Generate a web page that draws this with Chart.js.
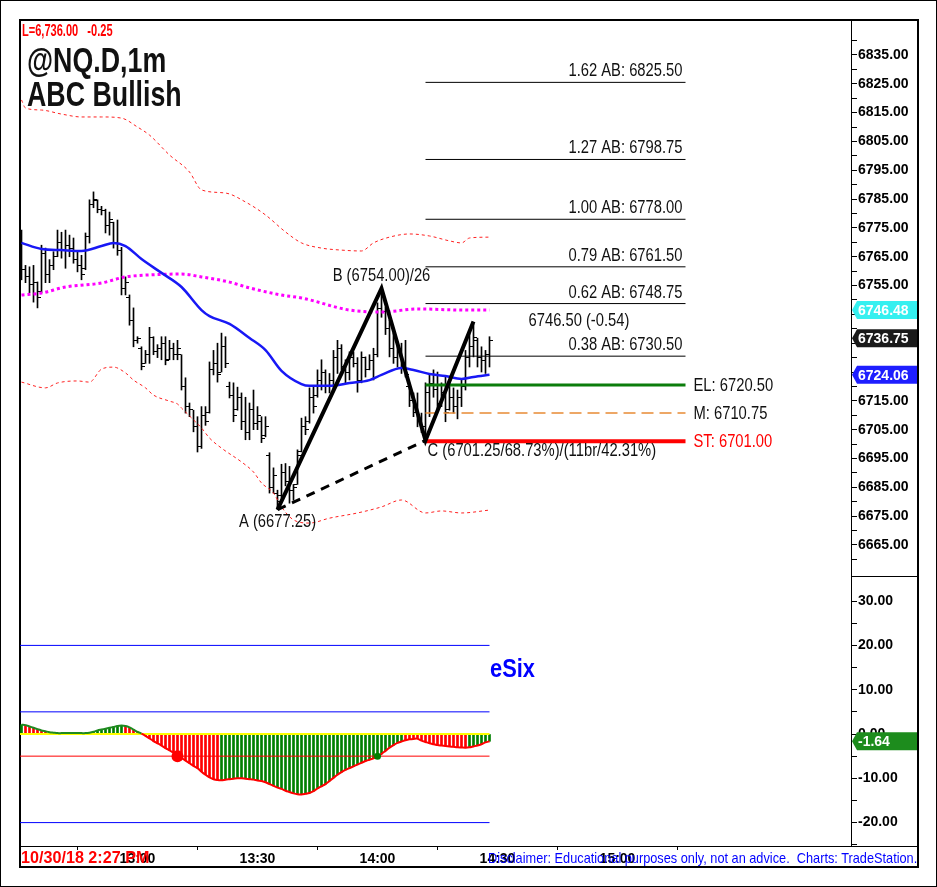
<!DOCTYPE html>
<html>
<head>
<meta charset="utf-8">
<script src="https://cdn.jsdelivr.net/npm/chart.js@4.4.1/dist/chart.umd.min.js"></script>
<style>
  html, body { margin: 0; padding: 0; background: #fff; }
  #wrap { position: relative; width: 937px; height: 887px; overflow: hidden; background: #fff; }
  .line { position: absolute; background: #000; }
  .txt { position: absolute; white-space: pre; transform-origin: 0 0;
         font-family: "Liberation Sans", Arial, sans-serif; }
  canvas { position: absolute; }
</style>
</head>
<body>
<div id="wrap">
  <div style="position:absolute;left:0;top:0;width:935px;height:885px;border:1px solid #000;"></div>
  <div style="position:absolute;left:19px;top:19px;width:896px;height:845px;border:2px solid #000;"></div>
  <div class="line" style="left:851px;top:576px;width:66px;height:1px;"></div>
  <div class="line" style="left:20px;top:846px;width:897px;height:1px;"></div>

  <canvas id="price" width="897" height="557" style="left:20px;top:20px;"></canvas>
  <canvas id="osc" width="897" height="289" style="left:20px;top:577px;"></canvas>

  <div class="txt" style="left:22px;top:23px;font-size:16px;line-height:16px;font-weight:bold;color:#f00;transform:scaleX(0.69);">L=6,736.00   -0.25</div>
  <div class="txt" style="left:27px;top:43px;font-size:35px;line-height:34px;font-weight:bold;color:#111;transform:scaleX(0.765);">@NQ.D,1m
ABC Bullish</div>
  <div class="txt" style="left:490px;top:655px;font-size:26px;line-height:26px;font-weight:bold;color:#0000ff;transform:scaleX(0.84);">eSix</div>
  <div class="txt" style="left:21px;top:849px;font-size:17px;line-height:17px;font-weight:bold;color:#f00;transform:scaleX(0.95);">10/30/18 2:27 PM</div>
  <div class="txt" style="left:488px;top:850px;font-size:15px;line-height:15px;color:#0000ff;transform:scaleX(0.85);">Disclaimer: Educational purposes only, not an advice.  Charts: TradeStation.</div>
</div>

<script>
// ---- data (1 minute bars, NQ futures) ----
const firstBarTime = "12:31";
const timeLabels = ["13:00", "13:30", "14:00", "14:30", "15:00"];

const barOpen = [
  6770.0, 6760.5, 6758.0, 6755.5, 6756.0, 6753.0, 6766.0, 6759.0, 6762.0, 6765.0,
  6770.0, 6767.0, 6769.0, 6768.0, 6764.0, 6762.0, 6761.0, 6772.0, 6783.0, 6784.5,
  6781.5, 6781.0, 6776.0, 6777.0, 6770.0, 6767.0, 6754.0, 6751.0, 6743.0, 6736.0,
  6733.0, 6728.0, 6731.0, 6737.0, 6732.0, 6733.0, 6735.0, 6729.5, 6733.0, 6731.0,
  6731.0, 6720.0, 6713.0, 6712.0, 6706.0, 6699.0, 6710.0, 6711.0, 6726.0, 6728.0,
  6725.0, 6734.0, 6720.0, 6717.0, 6712.0, 6716.0, 6708.0, 6704.0, 6712.0, 6707.0,
  6708.0, 6703.0, 6696.0, 6685.0, 6683.0, 6682.0, 6690.0, 6687.0, 6684.0, 6686.0,
  6697.5, 6706.0, 6708.0, 6716.0, 6717.0, 6722.0, 6725.0, 6720.0, 6722.0, 6730.0,
  6733.0, 6727.0, 6725.0, 6730.0, 6728.0, 6722.0, 6730.0, 6726.0, 6729.0, 6731.0,
  6747.0, 6746.0, 6740.0, 6733.0, 6730.0, 6733.0, 6727.0, 6720.0, 6715.0, 6711.0,
  6709.0, 6706.0, 6718.0, 6721.0, 6719.0, 6714.0, 6718.0, 6712.0, 6716.0, 6713.0,
  6716.0, 6720.0, 6730.0, 6734.0, 6736.0, 6730.0, 6729.0, 6731.0
];
const barHigh = [
  6774.25, 6762.0, 6761.5, 6762.0, 6756.25, 6769.0, 6768.0, 6764.0, 6766.75, 6774.25,
  6773.5, 6774.25, 6772.5, 6771.5, 6766.75, 6765.5, 6773.25, 6784.75, 6787.5, 6784.75,
  6782.5, 6781.5, 6780.5, 6777.0, 6777.75, 6768.25, 6758.0, 6751.75, 6747.25, 6737.25,
  6733.75, 6732.5, 6740.5, 6737.25, 6734.5, 6737.25, 6737.25, 6736.0, 6735.0, 6736.0,
  6731.0, 6723.0, 6714.25, 6711.75, 6709.5, 6713.0, 6713.0, 6728.5, 6732.5, 6735.0,
  6738.5, 6737.25, 6721.5, 6721.25, 6719.75, 6717.75, 6716.25, 6714.25, 6718.75, 6713.0,
  6709.5, 6709.5, 6697.0, 6691.75, 6684.0, 6693.0, 6693.25, 6692.25, 6686.0, 6698.0,
  6709.0, 6709.5, 6719.5, 6719.75, 6725.75, 6729.25, 6725.75, 6724.5, 6732.5, 6736.0,
  6734.5, 6729.25, 6732.0, 6732.0, 6730.0, 6732.0, 6730.25, 6731.0, 6733.25, 6749.0,
  6754.0, 6747.5, 6743.0, 6738.5, 6735.5, 6735.0, 6736.0, 6721.25, 6717.75, 6717.75,
  6710.75, 6721.25, 6724.5, 6725.75, 6725.0, 6721.25, 6723.25, 6722.25, 6719.5, 6718.75,
  6722.25, 6732.5, 6738.5, 6741.5, 6736.75, 6733.75, 6732.5, 6737.25
];
const barLow = [
  6757.0, 6756.0, 6752.5, 6749.25, 6747.25, 6752.5, 6756.0, 6756.0, 6760.5, 6765.0,
  6764.5, 6761.0, 6765.0, 6762.75, 6759.75, 6757.0, 6760.5, 6769.75, 6782.0, 6780.25,
  6779.5, 6773.25, 6772.5, 6768.0, 6765.5, 6751.75, 6751.75, 6741.25, 6733.75, 6735.0,
  6725.75, 6728.0, 6728.0, 6731.0, 6730.0, 6729.25, 6727.5, 6729.25, 6729.25, 6729.25,
  6718.75, 6710.75, 6709.5, 6704.25, 6697.25, 6698.5, 6706.5, 6710.75, 6724.0, 6721.5,
  6725.0, 6726.5, 6716.0, 6707.75, 6711.75, 6705.0, 6701.5, 6701.5, 6705.0, 6705.0,
  6700.5, 6702.5, 6683.0, 6683.0, 6677.25, 6681.25, 6685.5, 6679.5, 6680.5, 6686.0,
  6697.25, 6703.25, 6707.25, 6710.75, 6716.25, 6718.75, 6717.75, 6717.75, 6718.75, 6724.5,
  6725.75, 6721.25, 6722.25, 6726.75, 6718.0, 6721.25, 6723.25, 6725.75, 6722.25, 6730.25,
  6744.0, 6738.0, 6730.25, 6728.0, 6726.75, 6724.5, 6723.25, 6713.0, 6709.5, 6706.0,
  6704.0, 6701.25, 6709.5, 6716.25, 6711.75, 6713.0, 6707.75, 6711.75, 6710.75, 6708.75,
  6713.0, 6718.75, 6726.75, 6730.25, 6726.75, 6725.0, 6724.5, 6726.75
];
const barClose = [
  6760.5, 6758.0, 6755.5, 6756.0, 6751.0, 6766.0, 6759.0, 6762.0, 6765.0, 6770.0,
  6767.0, 6769.0, 6768.0, 6764.0, 6762.0, 6759.0, 6772.0, 6783.0, 6785.0, 6781.5,
  6781.0, 6776.0, 6778.0, 6770.0, 6767.0, 6754.0, 6756.0, 6743.0, 6736.0, 6736.5,
  6727.0, 6731.0, 6737.0, 6732.0, 6733.0, 6735.0, 6729.0, 6733.0, 6731.0, 6733.0,
  6720.0, 6713.0, 6712.0, 6706.0, 6699.0, 6710.0, 6708.0, 6726.0, 6728.0, 6724.0,
  6734.0, 6728.0, 6717.0, 6710.0, 6716.0, 6708.0, 6704.0, 6712.0, 6707.0, 6710.0,
  6702.0, 6706.0, 6685.0, 6689.0, 6680.0, 6690.0, 6687.0, 6684.0, 6685.0, 6696.0,
  6706.0, 6705.0, 6716.0, 6713.0, 6722.0, 6725.0, 6720.0, 6722.0, 6730.0, 6733.0,
  6727.0, 6725.0, 6730.0, 6728.0, 6722.0, 6730.0, 6726.0, 6729.0, 6731.0, 6747.0,
  6746.0, 6740.0, 6733.0, 6730.0, 6733.0, 6727.0, 6724.0, 6715.0, 6711.0, 6709.0,
  6706.0, 6718.0, 6721.0, 6719.0, 6714.0, 6718.0, 6711.0, 6716.0, 6713.0, 6716.0,
  6720.0, 6730.0, 6734.0, 6737.0, 6730.0, 6729.0, 6731.0, 6736.0
];

// averages and bands, sampled at bar positions
const fastMaIdx = [0, 5, 10, 15, 20, 23, 26, 30, 35, 40, 45, 47, 52, 57, 61, 65, 70, 72, 77, 82, 87, 90, 95, 98, 102, 106, 110, 113, 117];
const fastMaVal = [6769.8, 6767.7, 6767.3, 6767.0, 6768.7, 6769.8, 6768.7, 6764.2, 6759.4, 6754.5, 6746.5, 6744.4, 6741.7, 6736.8, 6732.6, 6725.4, 6720.8, 6720.2, 6720.2, 6721.2, 6722.2, 6724.0, 6726.4, 6725.7, 6724.3, 6723.6, 6722.6, 6723.3, 6724.06];
const slowMaIdx = [0, 5, 11, 20, 26, 32, 40, 45, 52, 57, 65, 70, 82, 90, 99, 110, 117];
const slowMaVal = [6751.7, 6752.4, 6754.5, 6755.9, 6758.0, 6758.7, 6759.0, 6758.0, 6756.2, 6754.2, 6751.7, 6750.7, 6746.5, 6745.8, 6746.9, 6746.5, 6746.48];
const upperBandIdx = [0, 1, 5, 10, 15, 20, 25, 29, 32, 37, 42, 45, 51, 56, 61, 66, 70, 75, 80, 85, 88, 92, 97, 102, 107, 110, 112, 117];
const upperBandVal = [6819.4, 6816.6, 6815.9, 6814.5, 6813.5, 6813.5, 6813.1, 6810.0, 6807.2, 6800.3, 6794.4, 6788.2, 6787.1, 6784.0, 6779.5, 6773.6, 6769.8, 6768.0, 6767.3, 6767.0, 6769.8, 6771.8, 6772.9, 6772.2, 6770.5, 6769.8, 6771.5, 6771.8];
const lowerBandIdx = [0, 6, 9, 14, 17, 20, 23, 26, 28, 31, 33, 37, 39, 40, 43, 45, 47, 50, 55, 58, 60, 63, 65, 68, 72, 77, 84, 90, 95, 101, 105, 110, 117];
const lowerBandVal = [6721.5, 6719.5, 6721.2, 6721.9, 6721.5, 6726.0, 6726.7, 6724.7, 6722.2, 6719.5, 6717.0, 6714.9, 6713.9, 6712.5, 6708.4, 6705.6, 6702.1, 6698.6, 6693.8, 6690.3, 6686.5, 6683.0, 6678.2, 6673.7, 6672.6, 6674.3, 6676.1, 6678.2, 6680.6, 6676.1, 6676.8, 6676.1, 6677.1];

// ABC pattern: A, B, C and the current leg
const abcIdx = [64, 90, 101, 113];
const abcPrice = [6677.25, 6754.00, 6701.25, 6742.5];
const projText = "6746.50 (-0.54)";
const fibRatios = ["1.62", "1.27", "1.00", "0.79", "0.62", "0.38"];
const fibPrices = [6825.50, 6798.75, 6778.00, 6761.50, 6748.75, 6730.50];
const levelNames = ["EL", "M", "ST"];
const levelPrices = [6720.50, 6710.75, 6701.00];
const levelEndIdx = 166;

const lastPrice = 6736.75;
const priceLabels = [6835, 6825, 6815, 6805, 6795, 6785, 6775, 6765, 6755, 6745, 6735, 6725, 6715, 6705, 6695, 6685, 6675, 6665];
const priceMinor = [6840, 6830, 6820, 6810, 6800, 6790, 6780, 6770, 6760, 6750, 6740, 6730, 6720, 6710, 6700, 6690, 6680, 6670, 6660];

// eSix oscillator, one value per bar
const oscValues = [
  2.1, 2.0, 1.7, 1.4, 1.1, 0.8, 0.6, 0.4, 0.3, 0.2,
  0.2, 0.2, 0.2, 0.2, 0.2, 0.2, 0.2, 0.3, 0.5, 0.8,
  1.0, 1.2, 1.4, 1.6, 1.8, 1.9, 1.8, 1.5, 1.0, 0.5,
  0.1, -0.4, -1.0, -1.6, -2.1, -2.6, -3.2, -3.7, -4.2, -4.8,
  -5.4, -6.0, -6.6, -7.2, -7.7, -8.5, -9.2, -9.8, -10.2, -10.4,
  -10.45, -10.3, -10.2, -10.1, -10.0, -10.0, -10.1, -10.2, -10.3, -10.5,
  -10.6, -10.9, -11.3, -11.7, -12.1, -12.4, -12.8, -13.1, -13.4, -13.6,
  -13.65, -13.5, -13.3, -12.9, -12.3, -11.8, -11.3, -10.6, -9.9, -9.2,
  -8.6, -8.1, -7.7, -7.3, -6.9, -6.5, -6.1, -5.8, -5.5, -5.1,
  -4.5, -3.8, -3.1, -2.5, -2.0, -1.7, -1.4, -1.2, -1.1, -1.05,
  -1.5, -1.8, -2.1, -2.3, -2.5, -2.6, -2.7, -2.8, -2.9, -3.0,
  -3.05, -3.1, -3.0, -2.8, -2.6, -2.3, -1.9, -1.64
];
// bar index ranges where the histogram is in its "up" (green) state
const oscUpRanges = [[0, 0], [17, 25], [50, 95], [112, 117]];
const oscLevels = [20, 5, -5, -20];
const sellSignalIdx = [39];
const buySignalIdx = [89];
const signalLevel = -5;
const oscLabels = [30, 20, 10, 0, -10, -20];
const oscMinor = [25, 15, 5, -5, -15, -25];

// ---- drawing ----
const SANS = '"Liberation Sans", Arial, sans-serif';
const NARROW_X = 0.82; // Liberation Sans squeezed to narrow width
const RED = "#ff0000";
const GREEN = "#008000";
const X_MIN = -0.375;
const X_MAX = 207.375;

Chart.defaults.font.family = SANS;

const toMin = (t) => { const p = t.split(":"); return +p[0] * 60 + +p[1]; };
const barIdx = barHigh.map((_, i) => i);
const toPts = (xs, ys) => xs.map((x, k) => ({ x: x, y: ys[k] }));

function tickImage(side) {
  const c = document.createElement("canvas");
  c.width = 7;
  c.height = 1;
  const g = c.getContext("2d");
  g.fillStyle = "#000";
  g.fillRect(side === "left" ? 0 : 4, 0, 3, 1);
  return c;
}

function narrowText(ctx, text, x, y) {
  ctx.save();
  ctx.translate(x, y);
  ctx.scale(NARROW_X, 1);
  ctx.fillText(text, 0, 0);
  ctx.restore();
}

function drawTag(ctx, left, y, text, bg) {
  ctx.fillStyle = bg;
  ctx.beginPath();
  ctx.moveTo(left + 1, y);
  ctx.lineTo(left + 6, y - 9);
  ctx.lineTo(left + 66, y - 9);
  ctx.lineTo(left + 66, y + 9);
  ctx.lineTo(left + 6, y + 9);
  ctx.closePath();
  ctx.fill();
  ctx.fillStyle = "#fff";
  ctx.font = "bold 14px " + SANS;
  ctx.textAlign = "left";
  ctx.textBaseline = "middle";
  ctx.fillText(text, left + 7, y + 1);
}

function fixY(width) {
  return function (s) {
    s.width = width;
    s.paddingTop = 0;
    s.paddingBottom = 0;
  };
}

const priceText = {
  id: "priceText",
  afterDatasetsDraw(chart) {
    const { ctx } = chart;
    const x = chart.scales.x, y = chart.scales.y;
    const endX = x.getPixelForValue(levelEndIdx);
    ctx.save();
    ctx.font = "18px " + SANS;
    ctx.fillStyle = "#111";
    ctx.textBaseline = "alphabetic";
    ctx.textAlign = "right";
    fibPrices.forEach((p, k) => {
      narrowText(ctx, fibRatios[k] + " AB: " + p.toFixed(2), endX - 3, y.getPixelForValue(p) - 6);
    });
    ctx.textBaseline = "middle";
    ctx.textAlign = "left";
    levelPrices.forEach((p, k) => {
      ctx.fillStyle = levelNames[k] === "ST" ? RED : "#111";
      narrowText(ctx, levelNames[k] + ": " + p.toFixed(2), endX + 8, y.getPixelForValue(p) + 1);
    });
    ctx.fillStyle = "#111";
    ctx.textBaseline = "alphabetic";
    const [ia, ib, ic, id] = abcIdx;
    const [pa, pb, pc, pd] = abcPrice;
    ctx.textAlign = "center";
    narrowText(ctx, "A (" + pa.toFixed(2) + ")", x.getPixelForValue(ia), y.getPixelForValue(pa) + 17);
    narrowText(ctx, "B (" + pb.toFixed(2) + ")/" + (ib - ia), x.getPixelForValue(ib), y.getPixelForValue(pb) - 7);
    ctx.textAlign = "left";
    const retr = ((pb - pc) / (pb - pa) * 100).toFixed(2);
    const barsPct = ((ic - ib) / (ib - ia) * 100).toFixed(2);
    narrowText(ctx, "C (" + pc.toFixed(2) + "/" + retr + "%)/(" + (ic - ib) + "br/" + barsPct + "%)",
      x.getPixelForValue(ic) + 2, y.getPixelForValue(pc) + 16);
    narrowText(ctx, projText, x.getPixelForValue(id) + 55, y.getPixelForValue(pd) + 4);
    ctx.restore();
  },
  afterDraw(chart) {
    const { ctx, chartArea } = chart;
    const y = chart.scales.y;
    const slowLast = slowMaVal[slowMaVal.length - 1];
    const fastLast = fastMaVal[fastMaVal.length - 1];
    ctx.save();
    drawTag(ctx, chartArea.right, y.getPixelForValue(slowLast), slowLast.toFixed(2), "#35f0f0");
    drawTag(ctx, chartArea.right, y.getPixelForValue(lastPrice), lastPrice.toFixed(2), "#1a1a1a");
    drawTag(ctx, chartArea.right, y.getPixelForValue(fastLast), fastLast.toFixed(2), "#1e1eff");
    ctx.restore();
  }
};

const levelStyles = [
  { color: "#0b7d0b", width: 3, dash: [] },
  { color: "#e88b35", width: 1.5, dash: [12, 6] },
  { color: RED, width: 4, dash: [] }
];

const priceSets = [
  { data: toPts(abcIdx, abcPrice), borderColor: "#000", borderWidth: 4, order: 1 },
  { data: [{ x: abcIdx[0], y: abcPrice[0] }, { x: abcIdx[2], y: abcPrice[2] }],
    borderColor: "#000", borderWidth: 3, borderDash: [9, 7], order: 2 }
];
levelPrices.forEach((p, k) => {
  priceSets.push({ data: [{ x: abcIdx[2], y: p }, { x: levelEndIdx, y: p }],
    borderColor: levelStyles[k].color, borderWidth: levelStyles[k].width, borderDash: levelStyles[k].dash, order: 3 });
});
fibPrices.forEach((p) => {
  priceSets.push({ data: [{ x: abcIdx[2], y: p }, { x: levelEndIdx, y: p }],
    borderColor: "#000", borderWidth: 1, order: 4 });
});
priceSets.push(
  { data: toPts(fastMaIdx, fastMaVal), borderColor: "#1818f5", borderWidth: 2.5, cubicInterpolationMode: "monotone", order: 5 },
  { data: toPts(slowMaIdx, slowMaVal), borderColor: "#ff00ff", borderWidth: 3, borderDash: [3, 3], cubicInterpolationMode: "monotone", order: 6 },
  { data: toPts(upperBandIdx, upperBandVal), borderColor: "#ff2020", borderWidth: 1, borderDash: [3, 3], cubicInterpolationMode: "monotone", order: 7 },
  { data: toPts(lowerBandIdx, lowerBandVal), borderColor: "#ff2020", borderWidth: 1, borderDash: [3, 3], cubicInterpolationMode: "monotone", order: 7 },
  { data: barIdx.map((i) => ({ x: i, y: barOpen[i] })), showLine: false, pointStyle: tickImage("left"), pointRadius: 2, order: 8 },
  { data: barIdx.map((i) => ({ x: i, y: barClose[i] })), showLine: false, pointStyle: tickImage("right"), pointRadius: 2, order: 8 },
  { type: "bar", data: barIdx.map((i) => ({ x: i, y: [barLow[i], barHigh[i]] })), backgroundColor: "#000", barThickness: 1, order: 9 }
);
priceSets.forEach((d) => { if (!d.type) { d.type = "line"; d.pointRadius = d.pointRadius || 0; } });

new Chart(document.getElementById("price"), {
  type: "line",
  data: { datasets: priceSets },
  options: {
    responsive: false,
    animation: false,
    events: [],
    layout: { padding: 0, autoPadding: false },
    plugins: { legend: { display: false }, tooltip: { enabled: false } },
    scales: {
      x: { type: "linear", display: false, min: X_MIN, max: X_MAX, offset: false },
      y: {
        position: "right",
        min: 6653.88,
        max: 6847.14,
        afterBuildTicks: (s) => { s.ticks = priceLabels.concat(priceMinor).sort((a, b) => b - a).map((v) => ({ value: v })); },
        afterFit: fixY(66),
        grid: { drawOnChartArea: false, tickLength: 6, color: "#000", tickColor: "#000" },
        border: { color: "#000", width: 1 },
        ticks: {
          padding: 1,
          color: "#000",
          autoSkip: false,
          font: { size: 14, weight: "bold" },
          callback: (v) => (priceLabels.includes(v) ? v.toFixed(2) : "")
        }
      }
    }
  },
  plugins: [priceText]
});

// ---- oscillator pane ----
function oscColor(i) {
  return oscUpRanges.some((r) => i >= r[0] && i <= r[1]) ? GREEN : RED;
}

const oscTag = {
  id: "oscTag",
  afterDraw(chart) {
    const v = oscValues[oscValues.length - 1];
    chart.ctx.save();
    drawTag(chart.ctx, chart.chartArea.right, chart.scales.y.getPixelForValue(v), v.toFixed(2), "#1d8c1d");
    chart.ctx.restore();
  }
};

const lastIdx = barIdx[barIdx.length - 1];
const oscSets = [
  { type: "line", data: sellSignalIdx.map((i) => ({ x: i, y: signalLevel })), showLine: false,
    pointRadius: 6, pointBackgroundColor: RED, pointBorderWidth: 0, order: 1 },
  { type: "line", data: buySignalIdx.map((i) => ({ x: i, y: signalLevel })), showLine: false,
    pointRadius: 3.5, pointBackgroundColor: GREEN, pointBorderWidth: 0, order: 1 },
  { type: "line", data: toPts(barIdx, oscValues), borderWidth: 2, pointRadius: 0, tension: 0.3, order: 2,
    segment: { borderColor: (c) => (c.p1.parsed.y >= 0 && c.p0.parsed.y >= 0 ? "#1f8a1f" : RED) } },
  { type: "line", data: [{ x: X_MIN, y: 0 }, { x: lastIdx, y: 0 }], borderColor: "#ffff00", borderWidth: 2, pointRadius: 0, order: 3 }
];
oscLevels.forEach((v) => {
  oscSets.push({ type: "line", data: [{ x: X_MIN, y: v }, { x: lastIdx, y: v }],
    borderColor: v === signalLevel ? RED : "#0000ff", borderWidth: 1, pointRadius: 0, order: 4 });
});
oscSets.push({ type: "bar", data: toPts(barIdx, oscValues), barThickness: 2, order: 5,
  backgroundColor: (c) => oscColor(c.dataIndex) });

const startMin = toMin(firstBarTime);

new Chart(document.getElementById("osc"), {
  type: "line",
  data: { datasets: oscSets },
  options: {
    responsive: false,
    animation: false,
    events: [],
    layout: { padding: 0, autoPadding: false },
    plugins: { legend: { display: false }, tooltip: { enabled: false } },
    scales: {
      x: {
        type: "linear",
        min: X_MIN,
        max: X_MAX,
        offset: false,
        afterBuildTicks: (s) => { s.ticks = timeLabels.map((t) => ({ value: toMin(t) - startMin })); },
        afterFit: (s) => { s.height = 20; s.paddingLeft = 0; s.paddingRight = 0; },
        grid: { drawOnChartArea: false, tickLength: 4, color: "#000", tickColor: "#000" },
        border: { color: "#000", width: 1 },
        ticks: {
          padding: 1,
          color: "#000",
          maxRotation: 0,
          autoSkip: false,
          font: { size: 14, weight: "bold" },
          callback: (v, i) => timeLabels[i]
        }
      },
      y: {
        position: "right",
        min: -25.28,
        max: 35.44,
        afterBuildTicks: (s) => { s.ticks = oscLabels.concat(oscMinor).sort((a, b) => b - a).map((v) => ({ value: v })); },
        afterFit: fixY(66),
        grid: { drawOnChartArea: false, tickLength: 6, color: "#000", tickColor: "#000" },
        border: { color: "#000", width: 1 },
        ticks: {
          padding: 1,
          color: "#000",
          autoSkip: false,
          font: { size: 14, weight: "bold" },
          callback: (v) => (oscLabels.includes(v) ? v.toFixed(2) : "")
        }
      }
    }
  },
  plugins: [oscTag]
});
</script>
</body>
</html>
